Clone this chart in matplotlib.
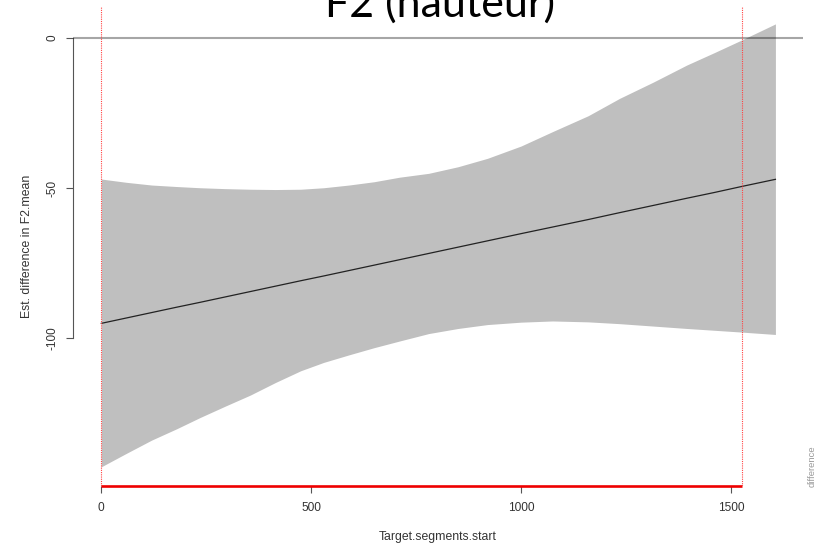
import numpy as np
import matplotlib
matplotlib.use("Agg")
import matplotlib.pyplot as plt

# === data ===
x_start = [0, 60, 120, 180, 235, 295, 355, 415, 475, 530, 590, 650, 710, 780, 850, 920,
           1000, 1075, 1160, 1235, 1315, 1395, 1460, 1525, 1606]
est_mean = [-95.1, -93.3, -91.5, -89.7, -88.1, -86.3, -84.5, -82.7, -80.9, -79.3, -77.5,
            -75.7, -73.9, -71.8, -69.7, -67.6, -65.2, -63.0, -60.5, -58.2, -55.8, -53.4,
            -51.5, -49.5, -47.1]
ci_upper = [-47.0, -48.1, -49.0, -49.5, -49.9, -50.2, -50.4, -50.5, -50.4, -49.9, -49.0,
            -47.9, -46.4, -45.1, -42.9, -40.1, -36.0, -31.2, -25.9, -20.1, -14.7, -9.0,
            -4.9, -0.7, 4.7]
ci_lower = [-142.9, -138.4, -134.0, -130.2, -126.5, -122.7, -119.0, -114.8, -110.9, -108.1,
            -105.6, -103.2, -101.0, -98.5, -96.8, -95.5, -94.7, -94.3, -94.6, -95.2, -96.0,
            -96.8, -97.4, -98.0, -98.8]
signif_from, signif_to = 0, 1526
x_ticks = [0, 500, 1000, 1500]
y_ticks = [-100, -50, 0]

title = "F2 (hauteur)"
xlab = "Target.segments.start"
ylab = "Est. difference in F2.mean"

# === figure ===
fig = plt.figure(figsize=(8.17, 5.46), dpi=100)
W, H = 817, 546
ax = fig.add_axes([73.3 / W, 1 - 485.7 / H, (802.7 - 73.3) / W, (485.7 - 6.5) / H])

ax.fill_between(x_start, ci_lower, ci_upper, color="#bfbfbf", linewidth=0, zorder=1)
ax.plot(x_start, est_mean, color="#222222", lw=0.9, zorder=2)
ax.axhline(0, color="black", alpha=0.35, lw=1.5, zorder=3)

# significant region markers
for xv in (signif_from, signif_to):
    ax.axvline(xv, color="#ff4444", lw=0.8, linestyle=(0, (1, 1)), zorder=3)

ax.set_xlim(-66.7, 1671)
ax.set_ylim(-149.2, 10.5)

ax.plot([signif_from, signif_to], [-149.2, -149.2], color="#ee0000", lw=1.9,
        solid_capstyle="butt", clip_on=False, zorder=5)

# axes styling (R-like)
for s in ("top", "right", "bottom"):
    ax.spines[s].set_visible(False)
ax.spines["left"].set_bounds(-100, 0)
ax.spines["left"].set_color("#555555")
ax.spines["left"].set_linewidth(0.8)

ax.set_xticks(x_ticks)
ax.set_xticklabels([str(v) for v in x_ticks], fontsize=8.6, family="Liberation Sans",
                   color="#333333")
ax.set_yticks(y_ticks)
ax.set_yticklabels([str(v) for v in y_ticks], fontsize=8.5, family="Liberation Sans",
                   color="#333333", rotation=90, va="center")
ax.tick_params(axis="x", length=5, width=0.8, color="#555555", pad=6.5)
ax.tick_params(axis="y", length=5, width=0.8, color="#555555", pad=6)

fig.text(438 / W, 1 - 537 / H, xlab, ha="center", va="center", fontsize=8.8,
         family="Liberation Sans", color="#333333")
fig.text(27 / W, 1 - 246 / H, ylab, ha="center", va="center", rotation=90, fontsize=8.8,
         family="Liberation Sans", color="#333333")
fig.text(812 / W, 1 - 466 / H, "difference", ha="center", va="center", rotation=90,
         fontsize=6.8, family="Liberation Sans", color="#999999")

# title is cut at the top edge in the original too
fig.text(440 / W, 1 - 17 / H, title, ha="center", va="baseline", fontsize=31,
         family="Lato", color="black")

fig.savefig("out.png", dpi=100)
